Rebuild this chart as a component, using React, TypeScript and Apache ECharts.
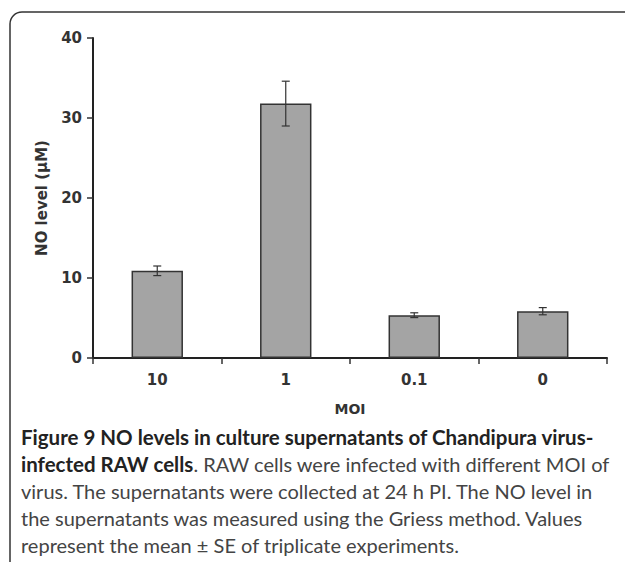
import React, { useEffect, useRef } from "react";
import * as echarts from "echarts";

const categories = ["10", "1", "0.1", "0"];
const values = [10.9, 31.8, 5.35, 5.85];
const errors = [0.6, 2.8, 0.3, 0.45];
const yTicks = { min: 0, max: 40, interval: 10 };
const captionLines = [
  "{b|Figure 9 NO levels in culture supernatants of Chandipura virus-}",
  "{b|infected RAW cells}{n|. RAW cells were infected with different MOI of}",
  "{n|virus. The supernatants were collected at 24 h PI. The NO level in}",
  "{n|the supernatants was measured using the Griess method. Values}",
  "{n|represent the mean ± SE of triplicate experiments.}",
];

export default function App() {
  const ref = useRef<HTMLDivElement>(null);
  useEffect(() => {
    if (!ref.current) return;
    const chart = echarts.init(ref.current, null, { renderer: "svg" });
    const capFont = "Lato, 'Open Sans', sans-serif";
    const axFont = "'DejaVu Sans', Arial, sans-serif";
    chart.setOption({
      animation: false,
      grid: { left: 93, right: 18, top: 38, bottom: 204 },
      xAxis: {
        type: "category",
        data: categories,
        boundaryGap: true,
        name: "MOI",
        nameLocation: "middle",
        nameGap: 44,
        nameTextStyle: { fontFamily: axFont, fontWeight: "bold", fontSize: 14, color: "#333" },
        axisLine: { lineStyle: { color: "#222", width: 2 } },
        axisTick: { show: true, length: 6, lineStyle: { color: "#333", width: 1.5 } },
        axisLabel: { margin: 14, fontFamily: axFont, fontWeight: "bold", fontSize: 15, color: "#333" },
      },
      yAxis: {
        type: "value",
        min: yTicks.min,
        max: yTicks.max,
        interval: yTicks.interval,
        name: "NO level (µM)",
        nameLocation: "middle",
        nameGap: 44,
        nameRotate: 90,
        nameTextStyle: { fontFamily: axFont, fontWeight: "bold", fontSize: 15, color: "#333" },
        axisLine: { show: true, lineStyle: { color: "#222", width: 2 } },
        axisTick: { show: true, length: 6, lineStyle: { color: "#333", width: 1.5 } },
        splitLine: { show: false },
        axisLabel: { margin: 11, fontFamily: axFont, fontWeight: "bold", fontSize: 15, color: "#333" },
      },
      series: [
        {
          type: "bar",
          data: values,
          barWidth: "40%",
          itemStyle: { color: "#a4a4a4", borderColor: "#333", borderWidth: 1.5 },
        },
        {
          type: "custom",
          data: values.map((v, i) => [i, v - errors[i], v + errors[i]]),
          renderItem: (params: any, api: any) => {
            const x = api.value(0);
            const lo = api.coord([x, api.value(1)]);
            const hi = api.coord([x, api.value(2)]);
            const w = 4;
            const style = { stroke: "#333", lineWidth: 1.2 };
            return {
              type: "group",
              children: [
                { type: "line", shape: { x1: lo[0], y1: lo[1], x2: hi[0], y2: hi[1] }, style },
                { type: "line", shape: { x1: lo[0] - w, y1: lo[1], x2: lo[0] + w, y2: lo[1] }, style },
                { type: "line", shape: { x1: hi[0] - w, y1: hi[1], x2: hi[0] + w, y2: hi[1] }, style },
              ],
            };
          },
          z: 5,
        },
      ],
      graphic: [
        {
          type: "rect",
          shape: { x: 10, y: 12, width: 800, height: 800, r: [12, 0, 0, 0] },
          style: { fill: "none", stroke: "#333", lineWidth: 1.5 },
          silent: true,
        },
        ...captionLines.map((t, i) => ({
          type: "text",
          x: 21,
          y: 437 + i * 27,
          style: {
            text: t,
            verticalAlign: "middle",
            rich: {
              b: { fontFamily: capFont, fontWeight: "bold", fontSize: 20.5, fill: "#222" },
              n: { fontFamily: capFont, fontWeight: "normal", fontSize: 20, fill: "#444" },
            },
          },
        })),
      ],
    });
    return () => chart.dispose();
  }, []);
  return (
    <div style={{ position: "fixed", left: 0, top: 0, width: 625, height: 562, background: "#fff" }}>
      <div ref={ref} style={{ width: 625, height: 562 }} />
    </div>
  );
}
